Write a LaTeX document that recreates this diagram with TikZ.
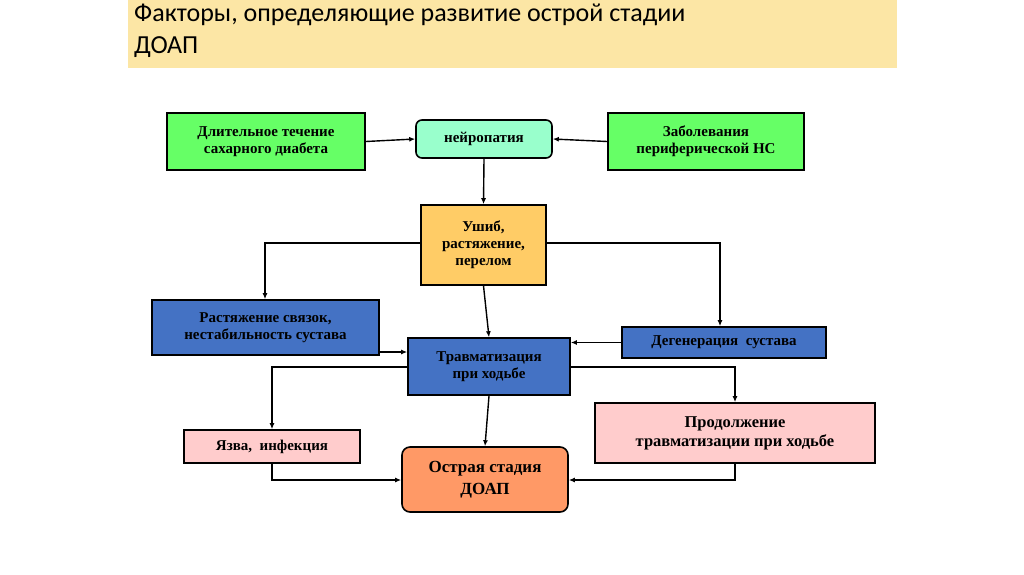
\documentclass[tikz,border=0pt]{standalone}
\usepackage{fontspec}
\setmainfont{Liberation Serif}
\newfontfamily\titlefont{Carlito}
\usetikzlibrary{arrows.meta}
\begin{document}
\begin{tikzpicture}[x=1pt,y=-1pt,
 bx/.style={draw=black,line width=1.6pt,align=center,font=\bfseries\fontsize{15}{17}\selectfont,inner sep=0pt},
 ar/.style={-{Latex[length=6pt,width=5pt]},line width=1.4pt}]
\useasboundingbox (0,0) rectangle (1024,574);
\fill[fill=white] (0,0) rectangle (1024,574);
\fill[fill={rgb,255:red,252;green,230;blue,165}] (128,0) rectangle (897,68);
\node[anchor=north west,align=left,font=\titlefont\fontsize{26}{32}\selectfont,inner sep=0pt] (title) at (134,4) {Факторы, определяющие развитие острой стадии\\ДОАП};
\def\bxat#1#2#3#4#5#6#7{\node[bx,fill=#6,minimum width=#3-#2,minimum height=#5-#4,#7] (#1) at ({(#2+#3)/2},{(#4+#5)/2})}
\bxat{dl}{167}{365}{113}{170}{{rgb,255:red,102;green,255;blue,102}}{}{Длительное течение\\сахарного диабета};
\bxat{ne}{416}{552}{120}{158}{{rgb,255:red,153;green,255;blue,204}}{rounded corners=6pt}{нейропатия};
\bxat{za}{608}{804}{113}{170}{{rgb,255:red,102;green,255;blue,102}}{}{Заболевания\\периферической НС};
\bxat{us}{421}{546}{205}{285}{{rgb,255:red,255;green,204;blue,102}}{}{Ушиб,\\растяжение,\\перелом};
\bxat{rs}{152}{379}{300}{355}{{rgb,255:red,68;green,114;blue,196}}{}{Растяжение связок,\\нестабильность сустава};
\bxat{de}{622}{826}{327}{358}{{rgb,255:red,68;green,114;blue,196}}{}{Дегенерация\ \ сустава};
\bxat{tr}{408}{570}{338}{395}{{rgb,255:red,68;green,114;blue,196}}{}{Травматизация\\при ходьбе};
\bxat{ya}{184}{360}{430}{463}{{rgb,255:red,255;green,204;blue,204}}{}{Язва,\ \ инфекция};
\bxat{pr}{595}{875}{403}{463}{{rgb,255:red,255;green,204;blue,204}}{font=\bfseries\fontsize{16.5}{19}\selectfont}{Продолжение\\травматизации при ходьбе};
\bxat{os}{402}{568}{447}{512}{{rgb,255:red,255;green,153;blue,102}}{rounded corners=8pt,font=\bfseries\fontsize{17}{22}\selectfont}{Острая стадия\\ДОАП};
\draw[ar] (dl.east) -- (ne.west);
\draw[ar] (za.west) -- (ne.east);
\draw[ar] (ne.south) -- (us.north);
\draw[ar] (us.west |- 0,243) -| (265,0 |- rs.north);
\draw[ar] (us.east |- 0,243) -| (720,0 |- de.north);
\draw[ar] (us.south) -- (tr.north);
\draw[ar] (rs.east |- 0,352) -- (tr.west |- 0,352);
\draw[ar] (de.west) -- (tr.east |- de.west);
\draw[ar] (tr.west |- 0,367) -| (272,0 |- ya.north);
\draw[ar] (tr.east |- 0,367) -| (735,0 |- pr.north);
\draw[ar] (tr.south) -- (os.north);
\draw[ar] (272,0 |- ya.south) |- (os.west |- 0,480);
\draw[ar] (735,0 |- pr.south) |- (os.east |- 0,480);
\end{tikzpicture}
\end{document}
